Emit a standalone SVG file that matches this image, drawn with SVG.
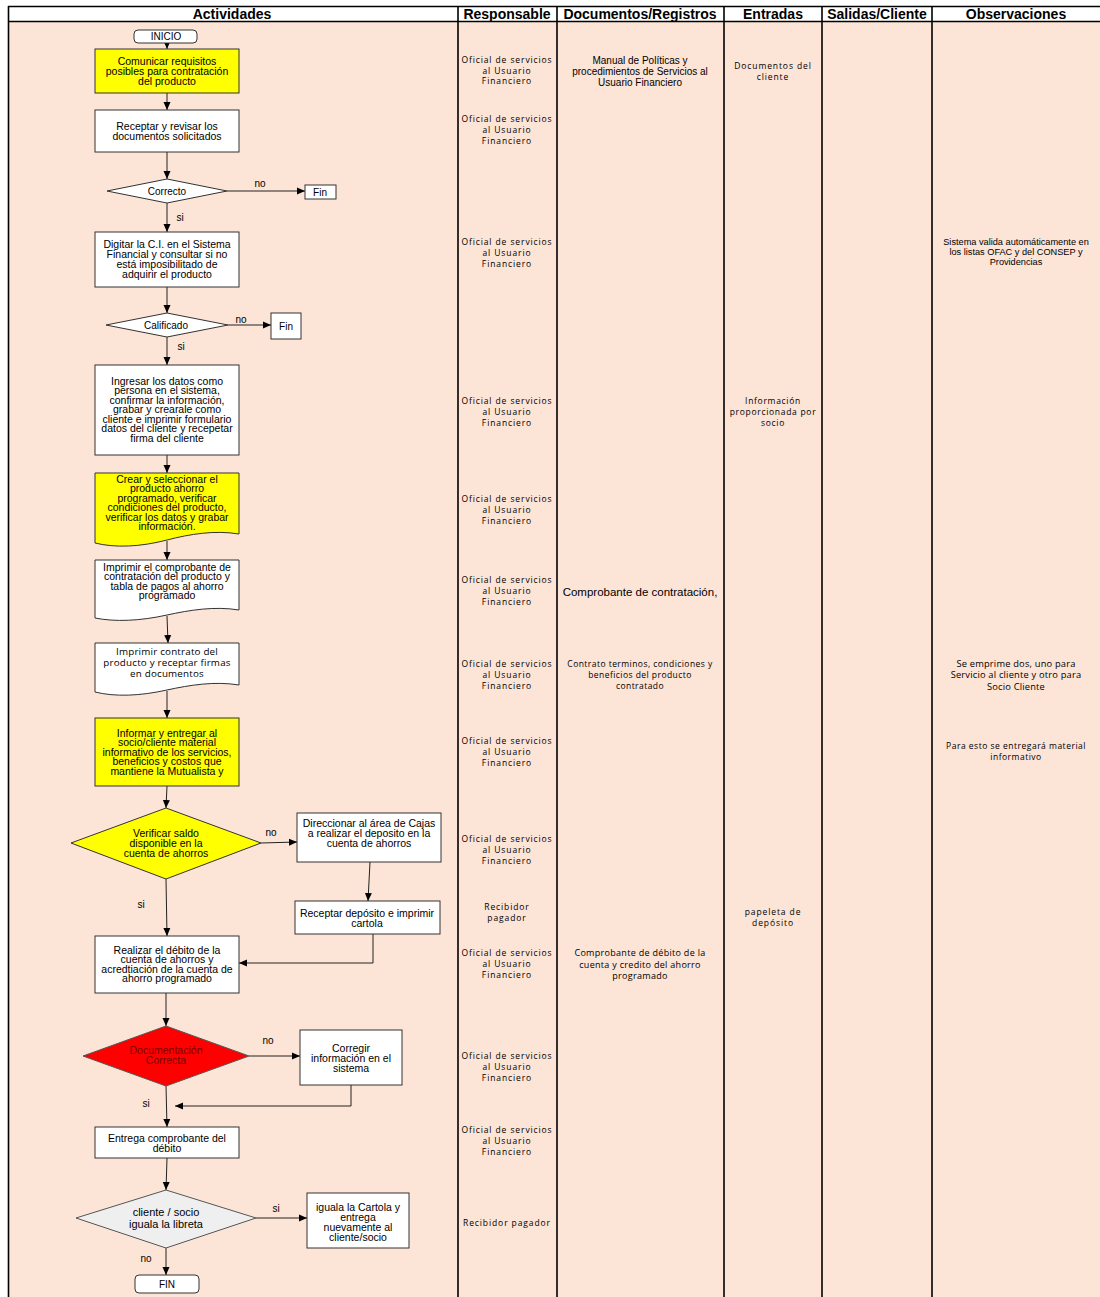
<svg xmlns="http://www.w3.org/2000/svg" width="1100" height="1297" viewBox="0 0 1100 1297">
<defs>
<style>
.hdr{font-family:"Liberation Sans",Arial,sans-serif;font-size:14px;font-weight:bold;fill:#000;text-anchor:middle}
.t{font-family:"Liberation Sans",Arial,sans-serif;font-size:10.5px;fill:#000;text-anchor:middle}
.lbl{font-family:"Liberation Sans",Arial,sans-serif;font-size:10px;fill:#000;text-anchor:middle}
.c8{font-family:"Open Sans","Noto Sans",sans-serif;font-size:8.5px;letter-spacing:0.9px;fill:#000;text-anchor:middle}
.c9{font-family:"Open Sans","Noto Sans",sans-serif;font-size:9px;letter-spacing:0.3px;fill:#000;text-anchor:middle}
.obs{font-family:"Liberation Sans",Arial,sans-serif;font-size:9.2px;fill:#000;text-anchor:middle}
.box{fill:#fff;stroke:#333;stroke-width:1}
.yel{fill:#ffff00;stroke:#333;stroke-width:1}
.col{stroke:#000;stroke-width:1.6}
.cn{fill:none;stroke:#222;stroke-width:1}
</style>
<marker id="ah" viewBox="0 0 8 8" refX="8" refY="4" markerWidth="8" markerHeight="8" markerUnits="userSpaceOnUse" orient="auto">
<path d="M0,0.5 L8,4 L0,7.5 Z" fill="#000"/>
</marker>
</defs>

<g id="table">
<rect x="8" y="6" width="1092" height="1291" fill="#fce4d6"/>
<rect x="8" y="6" width="1092" height="15.5" fill="#ffffff"/>
<line class="col" x1="8" y1="6.5" x2="1100" y2="6.5"/>
<line class="col" x1="8" y1="21.5" x2="1100" y2="21.5"/>
<line class="col" x1="8.5" y1="6" x2="8.5" y2="1297"/>
<line class="col" x1="458" y1="6" x2="458" y2="1297"/>
<line class="col" x1="557" y1="6" x2="557" y2="1297"/>
<line class="col" x1="724" y1="6" x2="724" y2="1297"/>
<line class="col" x1="822" y1="6" x2="822" y2="1297"/>
<line class="col" x1="932" y1="6" x2="932" y2="1297"/>
<text class="hdr" x="232" y="19">Actividades</text>
<text class="hdr" x="507" y="19">Responsable</text>
<text class="hdr" x="640" y="19">Documentos/Registros</text>
<text class="hdr" x="773" y="19">Entradas</text>
<text class="hdr" x="877" y="19">Salidas/Cliente</text>
<text class="hdr" x="1016" y="19">Observaciones</text>
</g>

<g id="connectors">
<line class="cn" x1="167" y1="43" x2="167" y2="49" marker-end="url(#ah)"/>
<line class="cn" x1="167" y1="93" x2="167" y2="110" marker-end="url(#ah)"/>
<line class="cn" x1="167" y1="152" x2="167" y2="179" marker-end="url(#ah)"/>
<line class="cn" x1="227" y1="191" x2="305" y2="191" marker-end="url(#ah)"/>
<line class="cn" x1="167" y1="203" x2="167" y2="232" marker-end="url(#ah)"/>
<line class="cn" x1="167" y1="287" x2="167" y2="313" marker-end="url(#ah)"/>
<line class="cn" x1="228" y1="325" x2="271" y2="325" marker-end="url(#ah)"/>
<line class="cn" x1="167" y1="337" x2="167" y2="365" marker-end="url(#ah)"/>
<line class="cn" x1="167" y1="455" x2="167" y2="473" marker-end="url(#ah)"/>
<line class="cn" x1="167" y1="541" x2="167" y2="560" marker-end="url(#ah)"/>
<line class="cn" x1="167" y1="616" x2="168" y2="643" marker-end="url(#ah)"/>
<line class="cn" x1="167" y1="691" x2="167" y2="718" marker-end="url(#ah)"/>
<line class="cn" x1="167" y1="786" x2="166" y2="808" marker-end="url(#ah)"/>
<line class="cn" x1="261" y1="843" x2="297" y2="842" marker-end="url(#ah)"/>
<line class="cn" x1="370" y1="862" x2="368" y2="901" marker-end="url(#ah)"/>
<line class="cn" x1="166" y1="879" x2="167" y2="936" marker-end="url(#ah)"/>
<polyline class="cn" points="373,934 373,963 239,963" marker-end="url(#ah)"/>
<line class="cn" x1="166" y1="993" x2="166" y2="1026" marker-end="url(#ah)"/>
<line class="cn" x1="249" y1="1056" x2="300" y2="1056" marker-end="url(#ah)"/>
<polyline class="cn" points="351,1085 351,1106 175,1106" marker-end="url(#ah)"/>
<line class="cn" x1="166" y1="1086" x2="167" y2="1127" marker-end="url(#ah)"/>
<line class="cn" x1="167" y1="1158" x2="166" y2="1190" marker-end="url(#ah)"/>
<line class="cn" x1="256" y1="1218" x2="307" y2="1218" marker-end="url(#ah)"/>
<line class="cn" x1="166" y1="1248" x2="166" y2="1275" marker-end="url(#ah)"/>
<text class="lbl" x="260" y="187">no</text>
<text class="lbl" x="180" y="221">si</text>
<text class="lbl" x="241" y="323">no</text>
<text class="lbl" x="181" y="350">si</text>
<text class="lbl" x="271" y="836">no</text>
<text class="lbl" x="141" y="908">si</text>
<text class="lbl" x="268" y="1044">no</text>
<text class="lbl" x="146" y="1107">si</text>
<text class="lbl" x="276" y="1212">si</text>
<text class="lbl" x="146" y="1262">no</text>
</g>

<g id="n-inicio">
<rect class="box" x="134" y="30" width="63" height="13" rx="4"/>
<text class="lbl" x="166" y="40">INICIO</text>
</g>
<g id="n-comunicar">
<rect class="yel" x="95" y="49" width="144" height="44"/>
<text class="t" x="167" y="64.5">Comunicar requisitos</text>
<text class="t" x="167" y="74.5">posibles para contratación</text>
<text class="t" x="167" y="84.5">del producto</text>
</g>
<g id="n-receptar">
<rect class="box" x="95" y="110" width="144" height="42"/>
<text class="t" x="167" y="129.5">Receptar y revisar los</text>
<text class="t" x="167" y="139.5">documentos solicitados</text>
</g>
<g id="n-correcto">
<polygon class="box" points="107,191 167,179 227,191 167,203"/>
<text class="lbl" x="167" y="194.5">Correcto</text>
</g>
<g id="n-fin1">
<rect class="box" x="305" y="185" width="31" height="14"/>
<text class="lbl" x="320" y="195.5">Fin</text>
</g>
<g id="n-digitar">
<rect class="box" x="95" y="232" width="144" height="55"/>
<text class="t" x="167" y="247.5">Digitar la C.I. en el Sistema</text>
<text class="t" x="167" y="257.5">Financial y consultar si no</text>
<text class="t" x="167" y="267.5">está imposibilitado de</text>
<text class="t" x="167" y="277.5">adquirir el producto</text>
</g>
<g id="n-calificado">
<polygon class="box" points="106,325 167,313 228,325 167,337"/>
<text class="lbl" x="166" y="328.5">Calificado</text>
</g>
<g id="n-fin2">
<rect class="box" x="271" y="313" width="30" height="26"/>
<text class="lbl" x="286" y="329.5">Fin</text>
</g>
<g id="n-ingresar">
<rect class="box" x="95" y="365" width="144" height="90"/>
<text class="t" x="167" y="384.5">Ingresar los datos como</text>
<text class="t" x="167" y="394">persona en el sistema,</text>
<text class="t" x="167" y="403.5">confirmar la información,</text>
<text class="t" x="167" y="413">grabar y crearale como</text>
<text class="t" x="167" y="422.5">cliente e imprimir formulario</text>
<text class="t" x="167" y="432">datos del cliente y recepetar</text>
<text class="t" x="167" y="441.5">firma del cliente</text>
</g>
<g id="n-crear">
<path class="yel" d="M95,473 H239 V534 C215,530 190,534 167,540 C140,547 115,548 95,543 Z"/>
<text class="t" x="167" y="482.5">Crear y seleccionar el</text>
<text class="t" x="167" y="492">producto ahorro</text>
<text class="t" x="167" y="501.5">programado, verificar</text>
<text class="t" x="167" y="511">condiciones del producto,</text>
<text class="t" x="167" y="520.5">verificar los datos y grabar</text>
<text class="t" x="167" y="530">información.</text>
</g>
<g id="n-imprimir-comprobante">
<path class="box" d="M95,560 H239 V610 C215,606 190,610 167,615 C140,621 115,622 95,618 Z"/>
<text class="t" x="167" y="570.5">Imprimir el comprobante de</text>
<text class="t" x="167" y="580">contratación del producto y</text>
<text class="t" x="167" y="589.5">tabla de pagos al ahorro</text>
<text class="t" x="167" y="599">programado</text>
</g>
<g id="n-imprimir-contrato">
<path class="box" d="M95,643 H239 V685 C215,681 190,685 167,690 C140,696 115,697 95,692 Z"/>
<text class="c9" x="167" y="654.5" style="font-size:9.8px;letter-spacing:0.2px">Imprimir contrato del</text>
<text class="c9" x="167" y="665.5" style="font-size:9.8px;letter-spacing:0.2px">producto y receptar firmas</text>
<text class="c9" x="167" y="676.5" style="font-size:9.8px;letter-spacing:0.2px">en documentos</text>
</g>
<g id="n-informar">
<rect class="yel" x="95" y="718" width="144" height="68"/>
<text class="t" x="167" y="736.5">Informar y entregar al</text>
<text class="t" x="167" y="746">socio/cliente material</text>
<text class="t" x="167" y="755.5">informativo de los servicios,</text>
<text class="t" x="167" y="765">beneficios y costos que</text>
<text class="t" x="167" y="774.5">mantiene la Mutualista y</text>
</g>
<g id="n-verificar">
<polygon class="yel" points="71,843 166,808 261,843 166,879"/>
<text class="t" x="166" y="836.5">Verificar saldo</text>
<text class="t" x="166" y="846.5">disponible en la</text>
<text class="t" x="166" y="856.5">cuenta de ahorros</text>
</g>
<g id="n-direccionar">
<rect class="box" x="297" y="813" width="144" height="49"/>
<text class="t" x="369" y="826.5">Direccionar al área de Cajas</text>
<text class="t" x="369" y="836.5">a realizar el deposito en la</text>
<text class="t" x="369" y="846.5">cuenta de ahorros</text>
</g>
<g id="n-deposito">
<rect class="box" x="295" y="901" width="145" height="33"/>
<text class="t" x="367" y="916.5">Receptar depósito e imprimir</text>
<text class="t" x="367" y="926.5">cartola</text>
</g>
<g id="n-debito">
<rect class="box" x="95" y="936" width="144" height="57"/>
<text class="t" x="167" y="953.5">Realizar el débito de la</text>
<text class="t" x="167" y="963">cuenta de ahorros y</text>
<text class="t" x="167" y="972.5">acredtiación de la cuenta de</text>
<text class="t" x="167" y="982">ahorro programado</text>
</g>
<g id="n-documentacion">
<polygon points="83,1056 166,1026 249,1056 166,1086" fill="#ff0000" stroke="#555" stroke-width="1"/>
<text class="t" x="166" y="1054" style="fill:#7a0000">Documentación</text>
<text class="t" x="166" y="1064" style="fill:#7a0000">Correcta</text>
</g>
<g id="n-corregir">
<rect class="box" x="300" y="1030" width="102" height="55"/>
<text class="t" x="351" y="1051.5">Corregir</text>
<text class="t" x="351" y="1061.5">información  en el</text>
<text class="t" x="351" y="1072">sistema</text>
</g>
<g id="n-entrega">
<rect class="box" x="95" y="1127" width="144" height="31"/>
<text class="t" x="167" y="1141.5">Entrega comprobante  del</text>
<text class="t" x="167" y="1151.5">débito</text>
</g>
<g id="n-iguala">
<polygon points="76,1218 166,1190 256,1218 166,1248" fill="#efefef" stroke="#555" stroke-width="1"/>
<text class="t" x="166" y="1216" style="font-size:11px">cliente / socio</text>
<text class="t" x="166" y="1228" style="font-size:11px">iguala la libreta</text>
</g>
<g id="n-cartola">
<rect class="box" x="307" y="1193" width="102" height="55"/>
<text class="t" x="358" y="1210.5">iguala la Cartola y</text>
<text class="t" x="358" y="1220.5">entrega</text>
<text class="t" x="358" y="1230.5">nuevamente al</text>
<text class="t" x="358" y="1240.5">cliente/socio</text>
</g>
<g id="n-fin">
<rect class="box" x="135" y="1275" width="64" height="18" rx="4"/>
<text class="lbl" x="167" y="1287.5">FIN</text>
</g>

<g id="responsable">
<text class="c8" x="507" y="63">Oficial de servicios</text><text class="c8" x="507" y="74">al Usuario</text><text class="c8" x="507" y="84">Financiero</text>
<text class="c8" x="507" y="122">Oficial de servicios</text><text class="c8" x="507" y="133">al Usuario</text><text class="c8" x="507" y="144">Financiero</text>
<text class="c8" x="507" y="245">Oficial de servicios</text><text class="c8" x="507" y="256">al Usuario</text><text class="c8" x="507" y="267">Financiero</text>
<text class="c8" x="507" y="404">Oficial de servicios</text><text class="c8" x="507" y="415">al Usuario</text><text class="c8" x="507" y="426">Financiero</text>
<text class="c8" x="507" y="502">Oficial de servicios</text><text class="c8" x="507" y="513">al Usuario</text><text class="c8" x="507" y="524">Financiero</text>
<text class="c8" x="507" y="583">Oficial de servicios</text><text class="c8" x="507" y="594">al Usuario</text><text class="c8" x="507" y="605">Financiero</text>
<text class="c8" x="507" y="667">Oficial de servicios</text><text class="c8" x="507" y="678">al Usuario</text><text class="c8" x="507" y="689">Financiero</text>
<text class="c8" x="507" y="744">Oficial de servicios</text><text class="c8" x="507" y="755">al Usuario</text><text class="c8" x="507" y="766">Financiero</text>
<text class="c8" x="507" y="842">Oficial de servicios</text><text class="c8" x="507" y="853">al Usuario</text><text class="c8" x="507" y="864">Financiero</text>
<text class="c8" x="507" y="910">Recibidor</text><text class="c8" x="507" y="921">pagador</text>
<text class="c8" x="507" y="956">Oficial de servicios</text><text class="c8" x="507" y="967">al Usuario</text><text class="c8" x="507" y="978">Financiero</text>
<text class="c8" x="507" y="1059">Oficial de servicios</text><text class="c8" x="507" y="1070">al Usuario</text><text class="c8" x="507" y="1081">Financiero</text>
<text class="c8" x="507" y="1133">Oficial de servicios</text><text class="c8" x="507" y="1144">al Usuario</text><text class="c8" x="507" y="1155">Financiero</text>
<text class="c8" x="507" y="1226">Recibidor pagador</text>
</g>

<g id="documentos">
<text class="t" x="640" y="63.5" style="font-size:10px">Manual de Políticas y</text>
<text class="t" x="640" y="74.5" style="font-size:10px">procedimientos de Servicios al</text>
<text class="t" x="640" y="85.5" style="font-size:10px">Usuario Financiero</text>
<text class="t" x="640" y="596" style="font-size:11.5px">Comprobante de contratación,</text>
<text class="c8" x="640" y="667" style="letter-spacing:0.45px">Contrato terminos, condiciones y</text>
<text class="c8" x="640" y="678" style="letter-spacing:0.45px">beneficios del producto</text>
<text class="c8" x="640" y="689" style="letter-spacing:0.45px">contratado</text>
<text class="c9" x="640" y="956">Comprobante de débito de la</text>
<text class="c9" x="640" y="968">cuenta y credito del ahorro</text>
<text class="c9" x="640" y="979">programado</text>
</g>

<g id="entradas">
<text class="c8" x="773" y="69">Documentos del</text>
<text class="c8" x="773" y="80">cliente</text>
<text class="c8" x="773" y="404" style="letter-spacing:0.7px">Información</text>
<text class="c8" x="773" y="415" style="letter-spacing:0.7px">proporcionada por</text>
<text class="c8" x="773" y="426" style="letter-spacing:0.7px">socio</text>
<text class="c8" x="773" y="915">papeleta de</text>
<text class="c8" x="773" y="926">depósito</text>
</g>

<g id="observaciones">
<text class="obs" x="1016" y="245">Sistema valida automáticamente en</text>
<text class="obs" x="1016" y="255">los listas OFAC y del CONSEP y</text>
<text class="obs" x="1016" y="265">Providencias</text>
<text class="c9" x="1016" y="667" style="font-size:9.3px;letter-spacing:0.2px">Se emprime dos, uno para</text>
<text class="c9" x="1016" y="678" style="font-size:9.3px;letter-spacing:0.2px">Servicio al cliente y otro para</text>
<text class="c9" x="1016" y="690" style="font-size:9.3px;letter-spacing:0.2px">Socio Cliente</text>
<text class="c8" x="1016" y="749" style="letter-spacing:0.5px">Para esto se entregará material</text>
<text class="c8" x="1016" y="760" style="letter-spacing:0.5px">informativo</text>
</g>
</svg>
